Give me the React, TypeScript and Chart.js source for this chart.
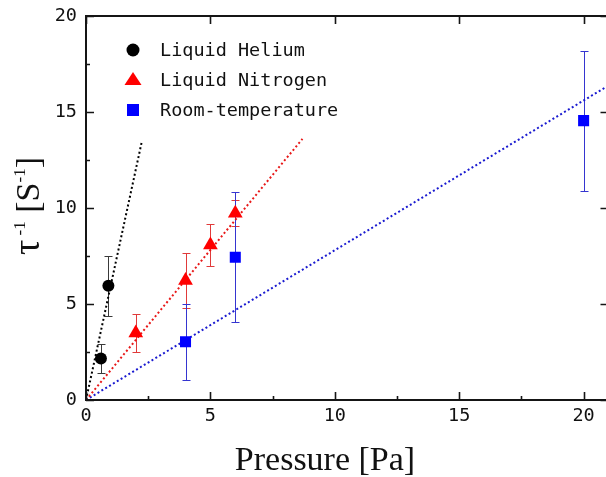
import React, { useEffect, useRef } from 'react';
import { Chart, registerables } from 'chart.js';

Chart.register(...registerables);

// ---- data ----
const heliumX = [0.6, 0.9];
const heliumY = [2.16, 5.95];
const heliumErr = [0.77, 1.56];

const nitrogenX = [2, 4, 5, 6];
const nitrogenY = [3.49, 6.23, 8.07, 9.73];
const nitrogenErr = [1.01, 1.45, 1.1, 0.67];

const roomX = [4, 6, 20];
const roomY = [3.03, 7.43, 14.55];
const roomErr = [1.97, 3.38, 3.65];

const heliumFitX = [0, 2.25];
const heliumFitY = [0, 13.5];
const nitrogenFitX = [0, 8.7];
const nitrogenFitY = [0, 13.6];
const roomFitX = [0, 21];
const roomFitY = [0, 16.38];

const xMajor = [0, 5, 10, 15, 20];
const xMinor = [2.5, 7.5, 12.5, 17.5];
const yMajor = [0, 5, 10, 15, 20];
const yMinor = [2.5, 7.5, 12.5, 17.5];

const seriesNames = ['Liquid Helium', 'Liquid Nitrogen', 'Room-temperature'];
const xTitle = 'Pressure [Pa]';

const BLACK = '#000000';
const RED = '#ff0000';
const BLUE = '#0000ff';

const toPts = (xs: number[], ys: number[]) => xs.map((v, i) => ({ x: v, y: ys[i] }));

const errSeries = [
  { xs: heliumX, ys: heliumY, err: heliumErr, color: '#3a3a3a' },
  { xs: nitrogenX, ys: nitrogenY, err: nitrogenErr, color: '#e03a3a' },
  { xs: roomX, ys: roomY, err: roomErr, color: '#3535d0' },
];

const TICK_FONT = '"DejaVu Sans Mono", monospace';
const SERIF = '"Liberation Serif", "DejaVu Serif", serif';

const customPlugin = {
  id: 'customDraw',
  beforeDatasetsDraw(chart: any) {
    const { ctx, scales } = chart;
    const x = scales.x, y = scales.y;
    ctx.save();
    ctx.lineWidth = 1;
    errSeries.forEach((s) => {
      ctx.strokeStyle = s.color;
      s.xs.forEach((xv, i) => {
        const px = Math.round(x.getPixelForValue(xv)) + 0.5;
        const top = Math.round(y.getPixelForValue(s.ys[i] + s.err[i])) + 0.5;
        const bot = Math.round(y.getPixelForValue(s.ys[i] - s.err[i])) + 0.5;
        ctx.beginPath();
        ctx.moveTo(px, top);
        ctx.lineTo(px, bot);
        ctx.moveTo(px - 4, top);
        ctx.lineTo(px + 4, top);
        ctx.moveTo(px - 4, bot);
        ctx.lineTo(px + 4, bot);
        ctx.stroke();
      });
    });
    ctx.restore();
  },
  afterDraw(chart: any) {
    const { ctx, scales, chartArea } = chart;
    const x = scales.x, y = scales.y;
    const { left, right, top, bottom } = chartArea;
    ctx.save();
    // frame
    ctx.strokeStyle = '#151515';
    ctx.lineWidth = 2;
    ctx.strokeRect(left, top, right - left, bottom - top);
    // ticks
    ctx.lineWidth = 1.6;
    ctx.beginPath();
    xMajor.forEach((v) => {
      const px = Math.round(x.getPixelForValue(v)) + 0.5;
      ctx.moveTo(px, bottom);
      ctx.lineTo(px, bottom - 8);
      ctx.moveTo(px, top);
      ctx.lineTo(px, top + 8);
    });
    xMinor.forEach((v) => {
      const px = Math.round(x.getPixelForValue(v)) + 0.5;
      ctx.moveTo(px, bottom);
      ctx.lineTo(px, bottom - 4);
    });
    yMajor.forEach((v) => {
      const py = Math.round(y.getPixelForValue(v)) + 0.5;
      ctx.moveTo(left, py);
      ctx.lineTo(left + 8, py);
      ctx.moveTo(right, py);
      ctx.lineTo(right - 8, py);
    });
    yMinor.forEach((v) => {
      const py = Math.round(y.getPixelForValue(v)) + 0.5;
      ctx.moveTo(left, py);
      ctx.lineTo(left + 4, py);
    });
    ctx.stroke();

    // legend
    const lx = 133;
    const rows = [50, 80, 110];
    ctx.fillStyle = BLACK;
    ctx.beginPath();
    ctx.arc(lx, rows[0], 6.5, 0, Math.PI * 2);
    ctx.fill();
    ctx.fillStyle = RED;
    ctx.beginPath();
    ctx.moveTo(lx, rows[1] - 8);
    ctx.lineTo(lx + 8.5, rows[1] + 5);
    ctx.lineTo(lx - 8.5, rows[1] + 5);
    ctx.closePath();
    ctx.fill();
    ctx.fillStyle = BLUE;
    ctx.fillRect(lx - 6, rows[2] - 6, 12, 12);
    ctx.fillStyle = '#111';
    ctx.font = `18.5px ${TICK_FONT}`;
    ctx.textAlign = 'left';
    ctx.textBaseline = 'middle';
    seriesNames.forEach((n, i) => ctx.fillText(n, 160, rows[i] + 1));

    // x title
    ctx.font = `34px ${SERIF}`;
    ctx.textAlign = 'center';
    ctx.textBaseline = 'alphabetic';
    ctx.fillStyle = '#111';
    ctx.fillText(xTitle, 325, 470);

    // y title (rotated, with superscripts)
    const parts = [
      { t: '\u03c4', size: 38, rise: 0 },
      { t: ' -1', size: 17, rise: 14 },
      { t: ' [S', size: 34, rise: 0 },
      { t: '-1', size: 17, rise: 14 },
      { t: ']', size: 34, rise: 0 },
    ];
    let total = 0;
    const widths = parts.map((p) => {
      ctx.font = `${p.size}px ${SERIF}`;
      const w = ctx.measureText(p.t).width;
      total += w;
      return w;
    });
    ctx.translate(39, 206);
    ctx.rotate(-Math.PI / 2);
    ctx.textAlign = 'left';
    let cx = -total / 2;
    parts.forEach((p, i) => {
      ctx.font = `${p.size}px ${SERIF}`;
      ctx.fillText(p.t, cx, -p.rise);
      cx += widths[i];
    });
    ctx.restore();
  },
};

export default function App() {
  const ref = useRef<HTMLCanvasElement | null>(null);
  useEffect(() => {
    if (!ref.current) return;
    const chart = new Chart(ref.current, {
      type: 'scatter',
      data: {
        datasets: [
          {
            label: seriesNames[0],
            data: toPts(heliumX, heliumY),
            pointStyle: 'circle',
            pointRadius: 6,
            backgroundColor: BLACK,
            borderColor: BLACK,
            borderWidth: 0,
          },
          {
            label: seriesNames[1],
            data: toPts(nitrogenX, nitrogenY),
            pointStyle: 'triangle',
            pointRadius: 8.5,
            backgroundColor: RED,
            borderColor: RED,
            borderWidth: 0,
          },
          {
            label: seriesNames[2],
            data: toPts(roomX, roomY),
            pointStyle: 'rect',
            pointRadius: 7.8,
            backgroundColor: BLUE,
            borderColor: BLUE,
            borderWidth: 0,
          },
          {
            type: 'line',
            label: 'fitHe',
            data: toPts(heliumFitX, heliumFitY),
            borderColor: BLACK,
            borderWidth: 2,
            borderDash: [2, 2.5],
            pointRadius: 0,
            showLine: true,
            fill: false,
          },
          {
            type: 'line',
            label: 'fitN',
            data: toPts(nitrogenFitX, nitrogenFitY),
            borderColor: '#e81818',
            borderWidth: 2,
            borderDash: [2, 2.5],
            pointRadius: 0,
            showLine: true,
            fill: false,
          },
          {
            type: 'line',
            label: 'fitRT',
            data: toPts(roomFitX, roomFitY),
            borderColor: '#1a1ad0',
            borderWidth: 2,
            borderDash: [2, 2.5],
            pointRadius: 0,
            showLine: true,
            fill: false,
          },
        ] as any,
      },
      options: {
        animation: false,
        responsive: false,
        devicePixelRatio: 1,
        layout: { padding: { left: 0, top: 16, right: 4, bottom: 0 } },
        plugins: { legend: { display: false }, tooltip: { enabled: false } },
        scales: {
          x: {
            type: 'linear',
            min: 0,
            max: 21,
            grid: { display: false, drawTicks: false },
            border: { display: false },
            ticks: {
              color: '#111',
              font: { family: TICK_FONT, size: 18.5 },
              padding: 5,
              maxRotation: 0,
            },
            afterBuildTicks: (s: any) => {
              s.ticks = xMajor.map((v) => ({ value: v }));
            },
            afterFit: (s: any) => {
              s.height = 77;
            },
          },
          y: {
            type: 'linear',
            min: 0,
            max: 20,
            grid: { display: false, drawTicks: false },
            border: { display: false },
            ticks: {
              color: '#111',
              font: { family: TICK_FONT, size: 18.5, lineHeight: 0.7 },
              padding: 9,
            },
            afterBuildTicks: (s: any) => {
              s.ticks = yMajor.map((v) => ({ value: v }));
            },
            afterFit: (s: any) => {
              s.width = 86;
            },
          },
        },
      } as any,
      plugins: [customPlugin],
    });
    return () => chart.destroy();
  }, []);
  return (
    <div
      style={{
        position: 'fixed',
        left: 0,
        top: 0,
        width: 606,
        height: 477,
        overflow: 'hidden',
        background: '#fff',
      }}
    >
      <canvas ref={ref} width={617} height={477} style={{ display: 'block' }} />
    </div>
  );
}
